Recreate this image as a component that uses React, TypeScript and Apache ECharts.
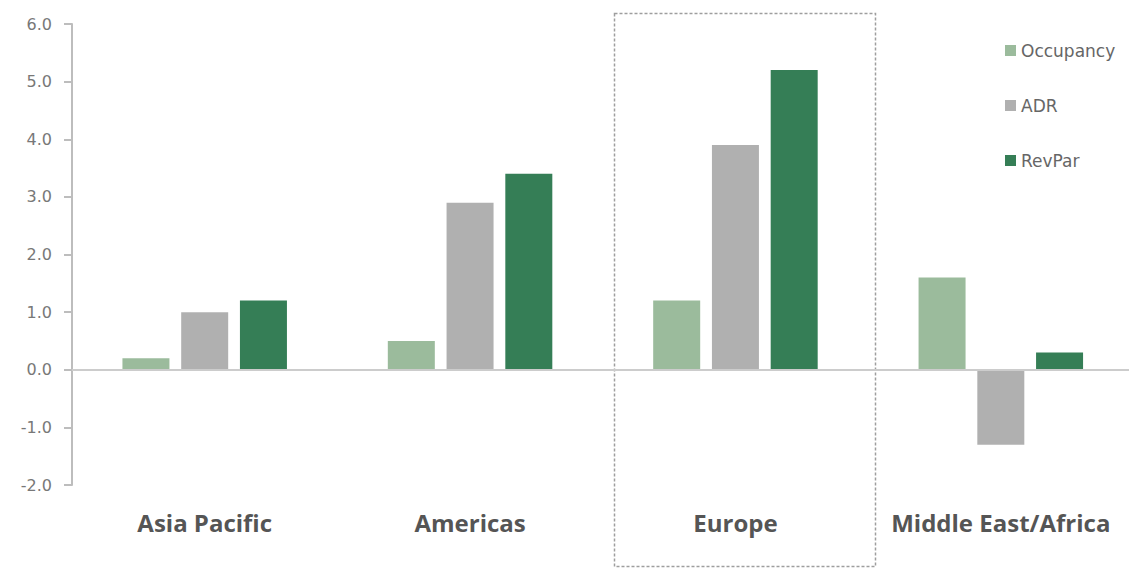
import React, { useEffect, useRef } from "react";
import * as echarts from "echarts";

const regions = ["Asia Pacific", "Americas", "Europe", "Middle East/Africa"];
const occupancy = [0.2, 0.5, 1.2, 1.6];
const adr = [1.0, 2.9, 3.9, -1.3];
const revPar = [1.2, 3.4, 5.2, 0.3];
const seriesNames = ["Occupancy", "ADR", "RevPar"];
const seriesColors = ["#9bbb9c", "#b0b0b0", "#357e56"];

export default function App() {
  const ref = useRef<HTMLDivElement>(null);

  useEffect(() => {
    if (!ref.current) return;
    const chart = echarts.init(ref.current, null, { renderer: "svg" });
    const values = [occupancy, adr, revPar];

    chart.setOption({
      animation: false,
      backgroundColor: "#ffffff",
      grid: { left: 72, top: 24, width: 1061.5, height: 461 },
      legend: {
        orient: "vertical",
        left: 1000,
        top: 37,
        itemWidth: 11,
        itemHeight: 11,
        itemGap: 38,
        icon: "rect",
        data: seriesNames,
        textStyle: { fontSize: 17, color: "#666666", fontFamily: "DejaVu Sans" },
      },
      xAxis: {
        type: "category",
        data: regions,
        position: "bottom",
        axisLine: { show: false, onZero: false },
        axisTick: { show: false },
        axisLabel: {
          interval: 0,
          hideOverlap: false,
          margin: 25,
          fontSize: 24,
          fontWeight: "bold",
          color: "#555555",
          fontFamily: "Open Sans",
        },
      },
      yAxis: {
        type: "value",
        min: -2,
        max: 6,
        interval: 1,
        splitLine: { show: false },
        axisLine: { show: true, lineStyle: { color: "#bdbdbd", width: 2 } },
        axisTick: { show: true, length: 8, lineStyle: { color: "#bdbdbd", width: 2 } },
        axisLabel: {
          margin: 20,
          fontSize: 16,
          color: "#787878",
          fontFamily: "DejaVu Sans",
          formatter: (v: number) => v.toFixed(1),
        },
      },
      series: seriesNames.map((name, i) => ({
        name,
        type: "bar",
        data: values[i],
        barWidth: 47,
        barGap: "25%",
        itemStyle: { color: seriesColors[i] },
        ...(i === 0
          ? {
              markLine: {
                silent: true,
                symbol: "none",
                label: { show: false },
                lineStyle: { color: "#cccccc", width: 2, type: "solid" },
                data: [{ yAxis: 0 }],
              },
            }
          : {}),
      })),
      graphic: [
        {
          type: "rect",
          shape: { x: 614.5, y: 13.5, width: 261, height: 553 },
          style: { fill: "none", stroke: "#9e9e9e", lineWidth: 1.5, lineDash: [3, 2] },
          silent: true,
        },
      ],
    });

    return () => chart.dispose();
  }, []);

  return (
    <div
      style={{ position: "absolute", left: 0, top: 0, width: 1129, height: 571, overflow: "hidden" }}
    >
      <div ref={ref} style={{ width: 1140, height: 571 }} />
    </div>
  );
}
